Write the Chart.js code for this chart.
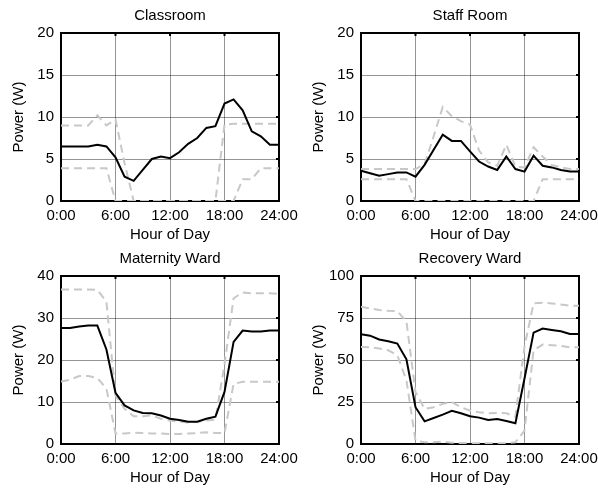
<!DOCTYPE html>
<html>
<head>
<meta charset="utf-8">
<script src="https://cdn.jsdelivr.net/npm/chart.js@4.4.1/dist/chart.umd.min.js"></script>
<style>
  body { margin: 0; background: #fff; }
  #wrap { position: relative; width: 598px; height: 490px; }
  canvas { position: absolute; }
</style>
</head>
<body>
<div id="wrap">
  <canvas id="c1" width="299" height="245" style="left:0;top:0"></canvas>
  <canvas id="c2" width="299" height="245" style="left:300px;top:0"></canvas>
  <canvas id="c3" width="299" height="245" style="left:0;top:243px"></canvas>
  <canvas id="c4" width="299" height="245" style="left:300px;top:243px"></canvas>
</div>
<script>
// hour of day, 0:00 .. 24:00
const HOURS = [0, 1, 2, 3, 4, 5, 6, 7, 8, 9, 10, 11, 12, 13, 14, 15, 16, 17, 18, 19, 20, 21, 22, 23, 24];

// Classroom
const CLASS_MEAN  = [6.5, 6.5, 6.5, 6.5, 6.7, 6.5, 5.2, 2.9, 2.4, 3.7, 5.0, 5.3, 5.1, 5.8, 6.8, 7.5, 8.7, 8.9, 11.6, 12.1, 10.8, 8.3, 7.7, 6.7, 6.7];
const CLASS_UPPER = [9.0, 9.0, 9.0, 9.0, 10.2, 9.0, 9.7, 4.5, 0, 0, 0, 0, 0, 0, 0, 0, 0, 0, 9.1, 9.2, 9.2, 9.2, 9.2, 9.2, 9.2];
const CLASS_LOWER = [3.9, 3.9, 3.9, 3.9, 3.9, 3.9, 0, 0, 0, 0, 0, 0, 0, 0, 0, 0, 0, 0, 0, 0, 2.6, 2.6, 3.9, 3.9, 3.9];

// Staff Room
const STAFF_MEAN  = [3.6, 3.3, 3.0, 3.2, 3.4, 3.4, 2.9, 4.3, 6.1, 7.9, 7.15, 7.15, 5.9, 4.7, 4.1, 3.7, 5.3, 3.8, 3.5, 5.4, 4.2, 4.0, 3.7, 3.5, 3.5];
const STAFF_UPPER = [3.8, 3.8, 3.8, 3.8, 3.8, 3.8, 3.8, 4.4, 7.7, 11.2, 10.1, 9.5, 9.1, 6.0, 4.6, 4.2, 6.7, 4.1, 4.0, 6.4, 5.3, 4.3, 4.0, 3.8, 3.8];
const STAFF_LOWER = [2.6, 2.6, 2.6, 2.6, 2.6, 2.6, 0, 0, 0, 0, 0, 0, 0, 0, 0, 0, 0, 0, 0, 0, 2.6, 2.6, 2.6, 2.6, 2.6];

// Maternity Ward
const MAT_MEAN  = [27.6, 27.6, 28.0, 28.2, 28.2, 22.5, 12.2, 9.2, 8.0, 7.4, 7.3, 6.8, 6.0, 5.7, 5.3, 5.3, 6.0, 6.5, 12.4, 24.3, 27.0, 26.8, 26.8, 27.0, 27.0];
const MAT_UPPER = [36.8, 36.8, 36.8, 36.8, 36.7, 33.9, 11.5, 8.4, 6.6, 6.6, 6.8, 6.0, 5.6, 5.3, 5.1, 5.3, 5.6, 5.8, 19.0, 34.7, 36.1, 35.9, 35.9, 35.9, 35.7];
const MAT_LOWER = [14.9, 15.3, 16.2, 16.2, 15.7, 13.2, 2.5, 2.5, 2.7, 2.6, 2.5, 2.5, 2.4, 2.4, 2.5, 2.6, 2.8, 2.6, 2.6, 14.3, 14.8, 14.8, 14.8, 14.8, 14.8];

// Recovery Ward
const REC_MEAN  = [65.3, 64.5, 62.2, 61.2, 59.8, 50.4, 21.9, 13.5, 15.5, 17.5, 19.7, 18.3, 16.5, 15.7, 14.3, 14.9, 13.7, 12.4, 39.0, 66.3, 68.7, 67.9, 67.1, 65.5, 65.5];
const REC_UPPER = [81.7, 80.7, 79.7, 79.3, 79.1, 73.0, 31.0, 20.9, 21.9, 23.9, 24.9, 21.9, 19.9, 18.9, 18.3, 18.5, 18.3, 16.3, 58.0, 83.7, 84.1, 83.7, 83.1, 82.3, 82.3];
const REC_LOWER = [57.8, 57.6, 56.8, 55.8, 52.8, 38.0, 2.0, 1.0, 1.0, 1.4, 0.8, 0.6, 0.5, 0.5, 0.5, 0.5, 0.5, 1.0, 8.0, 55.8, 59.2, 58.8, 58.4, 57.6, 57.6];

Chart.defaults.font.family = "'Liberation Sans', Arial, sans-serif";
Chart.defaults.font.size = 15;
Chart.defaults.color = '#000';

const GRID_COLOR = 'rgba(0, 0, 0, 0.42)';
const BAND_COLOR = '#c8c8c8';

// 위/오른쪽 축 테두리와 안쪽 눈금 (MATLAB 스타일 박스)
const boxPlugin = {
  id: 'box',
  beforeDatasetsDraw(chart) {
    const { ctx, chartArea: a, scales: { x, y } } = chart;
    ctx.save();
    ctx.strokeStyle = '#000';
    ctx.lineWidth = 2;
    ctx.beginPath();
    ctx.moveTo(a.left, a.top);
    ctx.lineTo(a.right, a.top);
    ctx.lineTo(a.right, a.bottom);
    x.ticks.forEach(t => {
      const px = x.getPixelForValue(t.value);
      ctx.moveTo(px, a.top);
      ctx.lineTo(px, a.top + 3);
    });
    y.ticks.forEach(t => {
      const py = y.getPixelForValue(t.value);
      ctx.moveTo(a.right, py);
      ctx.lineTo(a.right - 3, py);
    });
    ctx.stroke();
    ctx.restore();
  }
};

function toPoints(values) {
  return HOURS.map((h, i) => ({ x: h, y: values[i] }));
}

function makeChart(id, title, mean, upper, lower, yMax, yStep) {
  return new Chart(document.getElementById(id), {
    type: 'line',
    data: {
      datasets: [
        { data: toPoints(mean), borderColor: '#000', borderWidth: 2 },
        { data: toPoints(upper), borderColor: BAND_COLOR, borderWidth: 2, borderDash: [8, 5] },
        { data: toPoints(lower), borderColor: BAND_COLOR, borderWidth: 2, borderDash: [8, 5] }
      ]
    },
    options: {
      responsive: false,
      animation: false,
      layout: { padding: { top: 0, left: 6, right: 20, bottom: 1 } },
      elements: { point: { radius: 0 }, line: { tension: 0 } },
      plugins: {
        legend: { display: false },
        tooltip: { enabled: false },
        title: {
          display: true,
          text: title,
          fullSize: false,
          font: { size: 15, weight: 'normal' },
          padding: { top: 7, bottom: 8 }
        }
      },
      scales: {
        x: {
          type: 'linear',
          min: 0,
          max: 24,
          // 축 높이를 고정하고 마지막 눈금 라벨로 인한 여백 확장을 막음
          afterFit: s => { s.height = 43; s.paddingLeft = 0; s.paddingRight = 0; },
          ticks: {
            stepSize: 6,
            padding: 6,
            maxRotation: 0,
            autoSkip: false,
            callback: v => v + ':00'
          },
          grid: { color: GRID_COLOR, lineWidth: 1, drawTicks: false },
          border: { color: '#000', width: 2 },
          title: { display: true, text: 'Hour of Day', padding: { top: 0, bottom: 0 } }
        },
        y: {
          min: 0,
          max: yMax,
          afterFit: s => { s.width = 55; },
          ticks: { stepSize: yStep, padding: 7 },
          grid: { color: GRID_COLOR, lineWidth: 1, drawTicks: false },
          border: { color: '#000', width: 2 },
          title: { display: true, text: 'Power (W)', padding: { top: 4, bottom: 4 } }
        }
      }
    },
    plugins: [boxPlugin]
  });
}

makeChart('c1', 'Classroom', CLASS_MEAN, CLASS_UPPER, CLASS_LOWER, 20, 5);
makeChart('c2', 'Staff Room', STAFF_MEAN, STAFF_UPPER, STAFF_LOWER, 20, 5);
makeChart('c3', 'Maternity Ward', MAT_MEAN, MAT_UPPER, MAT_LOWER, 40, 10);
makeChart('c4', 'Recovery Ward', REC_MEAN, REC_UPPER, REC_LOWER, 100, 25);
</script>
</body>
</html>
